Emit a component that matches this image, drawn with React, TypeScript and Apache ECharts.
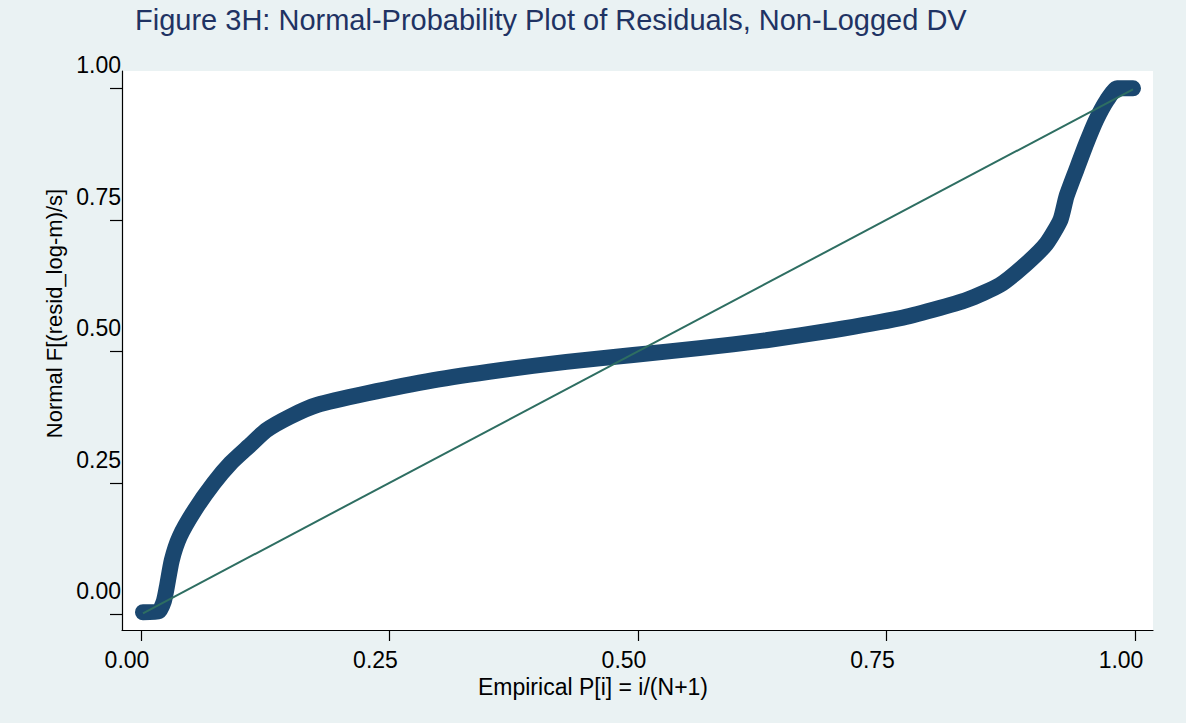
import React, { useEffect, useRef } from "react";
import * as echarts from "echarts";

// Empirical P[i] (x) and Normal F[(resid_log-m)/s] (y)
const xVals = [0.002, 0.018, 0.023, 0.026, 0.031, 0.039, 0.054, 0.073, 0.090, 0.110, 0.126, 0.150, 0.177, 0.227, 0.294, 0.361, 0.428, 0.495, 0.562, 0.629, 0.696, 0.764, 0.797, 0.831, 0.864, 0.891, 0.911, 0.925, 0.931, 0.941, 0.951, 0.961, 0.972, 0.982, 0.998];
const yVals = [0.004, 0.006, 0.025, 0.052, 0.103, 0.148, 0.198, 0.249, 0.287, 0.322, 0.350, 0.376, 0.398, 0.420, 0.445, 0.464, 0.480, 0.493, 0.506, 0.521, 0.540, 0.563, 0.579, 0.598, 0.626, 0.667, 0.705, 0.750, 0.794, 0.845, 0.895, 0.940, 0.978, 1.000, 1.000];

// Reference line y = x
const refX = [0.002, 0.998];
const refY = [0.002, 0.998];

const tickValues = [0, 0.25, 0.5, 0.75, 1];

const titleText = "Figure 3H: Normal-Probability Plot of Residuals, Non-Logged DV";
const xTitle = "Empirical P[i] = i/(N+1)";
const yTitle = "Normal F[(resid_log-m)/s]";

const FONT = "'Liberation Sans', Arial, Helvetica, sans-serif";

export default function App() {
  const ref = useRef<HTMLDivElement>(null);
  useEffect(() => {
    if (!ref.current) return;
    const chart = echarts.init(ref.current, null, { renderer: "svg" });
    const curve = xVals.map((x, i) => [x, yVals[i]]);
    const refLine = refX.map((x, i) => [x, refY[i]]);
    chart.setOption({
      animation: false,
      backgroundColor: "#EAF2F3",
      textStyle: { fontFamily: FONT },
      title: {
        text: titleText,
        left: 135,
        top: 5,
        padding: 0,
        textStyle: { fontFamily: FONT, fontSize: 29, fontWeight: "normal", color: "#1f3363" },
      },
      grid: {
        left: 122,
        right: 33,
        top: 71,
        bottom: 93,
        show: true,
        backgroundColor: "#ffffff",
        borderWidth: 0,
      },
      xAxis: {
        type: "value",
        min: -0.0191,
        max: 1.0181,
        name: xTitle,
        nameLocation: "middle",
        nameGap: 43,
        nameTextStyle: { fontFamily: FONT, fontSize: 23, color: "#000", padding: [0, 89, 0, 0] },
        axisLine: { show: true, onZero: false, lineStyle: { color: "#000", width: 1.2 } },
        axisTick: { show: true, length: 11, customValues: tickValues, lineStyle: { color: "#000", width: 1.2 } },
        axisLabel: {
          customValues: tickValues,
          formatter: (v: number) => v.toFixed(2),
          margin: 18,
          fontFamily: FONT,
          fontSize: 23,
          color: "#000",
          padding: [0, 28, 0, 0],
        },
        splitLine: { show: false },
      },
      yAxis: {
        type: "value",
        min: -0.0298,
        max: 1.0329,
        name: yTitle,
        nameLocation: "middle",
        nameGap: 54,
        nameRotate: 90,
        nameTextStyle: { fontFamily: FONT, fontSize: 22, color: "#000", padding: [0, 0, 0, 74] },
        axisLine: { show: true, onZero: false, lineStyle: { color: "#000", width: 1.2 } },
        axisTick: { show: true, length: 12, customValues: tickValues, lineStyle: { color: "#000", width: 1.2 } },
        axisLabel: {
          customValues: tickValues,
          formatter: (v: number) => v.toFixed(2) + "\n \n ",
          margin: 1,
          fontFamily: FONT,
          fontSize: 23,
          lineHeight: 23,
          color: "#000",
          verticalAlign: "middle",
        },
        splitLine: { show: false },
      },
      series: [
        {
          type: "line",
          data: curve,
          showSymbol: false,
          symbol: "none",
          smooth: 0.2,
          lineStyle: { color: "#1a476f", width: 16, cap: "round", join: "round" },
          z: 2,
        },
        {
          type: "line",
          data: refLine,
          showSymbol: false,
          symbol: "none",
          lineStyle: { color: "#2e6e62", width: 2 },
          z: 3,
        },
      ],
    });
    return () => chart.dispose();
  }, []);
  return <div ref={ref} style={{ position: "fixed", left: 0, top: 0, width: 1186, height: 723 }} />;
}
